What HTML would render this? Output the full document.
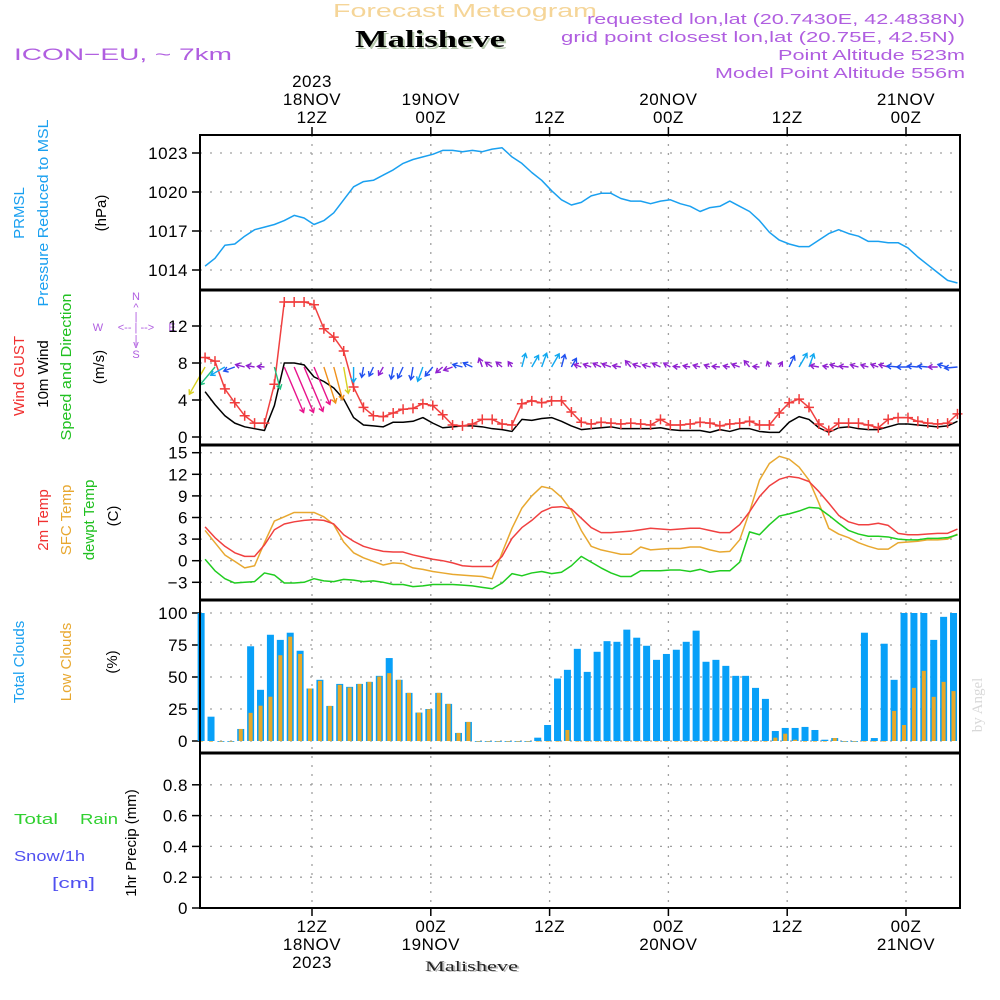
<!DOCTYPE html>
<html><head><meta charset="utf-8"><style>
html,body{margin:0;padding:0;background:#fff;}
svg{display:block;font-family:"Liberation Sans",sans-serif;}
</style></head><body>
<svg id="chart" width="1000" height="1000" viewBox="0 0 1000 1000" xmlns="http://www.w3.org/2000/svg">
<rect width="1000" height="1000" fill="#fff"/>
<g id="header">
<text x="333" y="17" font-size="18" fill="#f5d598" textLength="264" lengthAdjust="spacingAndGlyphs">Forecast Meteogram</text>
<text x="357" y="49" font-family="Liberation Serif,serif" font-weight="bold" font-size="24" fill="#b9cbb0" textLength="150" lengthAdjust="spacingAndGlyphs">Malisheve</text>
<text x="355" y="47" font-family="Liberation Serif,serif" font-weight="bold" font-size="24" fill="#000" textLength="150" lengthAdjust="spacingAndGlyphs">Malisheve</text>
<text x="14" y="60" font-size="17" fill="#b05ee0" textLength="218" lengthAdjust="spacingAndGlyphs">ICON−EU,  ~  7km</text>
<g font-size="15" fill="#b05ee0">
<text x="587" y="24" textLength="378" lengthAdjust="spacingAndGlyphs">requested lon,lat (20.7430E, 42.4838N)</text>
<text x="561" y="42" textLength="394" lengthAdjust="spacingAndGlyphs">grid point closest lon,lat (20.75E, 42.5N)</text>
<text x="778" y="60" textLength="187" lengthAdjust="spacingAndGlyphs">Point Altitude 523m</text>
<text x="715" y="78" textLength="250" lengthAdjust="spacingAndGlyphs">Model Point Altitude 556m</text>
</g>
</g>
<g id="labels" font-size="15">
<text transform="translate(24,213) rotate(-90)" text-anchor="middle" fill="#1aa0f0">PRMSL</text>
<text transform="translate(48,213) rotate(-90)" text-anchor="middle" fill="#1aa0f0" textLength="187" lengthAdjust="spacingAndGlyphs">Pressure Reduced to MSL</text>
<text transform="translate(106,213) rotate(-90)" text-anchor="middle" fill="#000">(hPa)</text>
<text transform="translate(24,376) rotate(-90)" text-anchor="middle" fill="#f03030">Wind GUST</text>
<text transform="translate(48,374) rotate(-90)" text-anchor="middle" fill="#000">10m Wind</text>
<text transform="translate(71,367) rotate(-90)" text-anchor="middle" fill="#20c020" textLength="147" lengthAdjust="spacingAndGlyphs">Speed and Direction</text>
<text transform="translate(104,367) rotate(-90)" text-anchor="middle" fill="#000">(m/s)</text>
<g fill="#b05ee0" font-size="11" text-anchor="middle">
<text x="136" y="300">N</text><text x="136" y="311">^</text><text x="136" y="320">|</text>
<text x="98" y="331">W</text><text x="136" y="331">&lt;-- | --&gt;</text><text x="172" y="331">E</text>
<text x="136" y="343">|</text><text x="136" y="348">v</text><text x="136" y="358">S</text>
</g>
<text transform="translate(48,520) rotate(-90)" text-anchor="middle" fill="#f03030">2m Temp</text>
<text transform="translate(71,520) rotate(-90)" text-anchor="middle" fill="#e8a830">SFC Temp</text>
<text transform="translate(94,520) rotate(-90)" text-anchor="middle" fill="#20c020">dewpt Temp</text>
<text transform="translate(118,516) rotate(-90)" text-anchor="middle" fill="#000">(C)</text>
<text transform="translate(24,662) rotate(-90)" text-anchor="middle" fill="#1aa0f0">Total Clouds</text>
<text transform="translate(71,662) rotate(-90)" text-anchor="middle" fill="#e8a830">Low Clouds</text>
<text transform="translate(117,662) rotate(-90)" text-anchor="middle" fill="#000">(%)</text>
<text transform="translate(136,843) rotate(-90)" text-anchor="middle" fill="#000">1hr Precip (mm)</text>
<text x="14" y="824" font-size="15" fill="#30d030" textLength="44" lengthAdjust="spacingAndGlyphs">Total</text>
<text x="80" y="824" font-size="15" fill="#30d030" textLength="38" lengthAdjust="spacingAndGlyphs">Rain</text>
<text x="14" y="861" font-size="15" fill="#5050f0" textLength="71" lengthAdjust="spacingAndGlyphs">Snow/1h</text>
<text x="52" y="888" font-size="15" fill="#5050f0" textLength="43" lengthAdjust="spacingAndGlyphs">[cm]</text>
<text transform="translate(982,705) rotate(-90)" text-anchor="middle" font-family="Liberation Serif,serif" font-size="15" fill="#d8d8d8">by Angel</text>
<text x="427" y="972" font-family="Liberation Serif,serif" font-size="15" fill="#bbb" textLength="93" lengthAdjust="spacingAndGlyphs">Malisheve</text>
<text x="425" y="971" font-family="Liberation Serif,serif" font-size="15" fill="#222" textLength="93" lengthAdjust="spacingAndGlyphs">Malisheve</text>
</g>
<g id="plot"></g>
</svg>
<script>
// ---- data (hourly, starting ~01Z 18NOV 2023) ----
const pressure = [1014.3,1014.9,1015.9,1016,1016.6,1017.1,1017.3,1017.5,1017.8,1018.2,1018,1017.5,1017.8,1018.4,1019.4,1020.4,1020.8,1020.9,1021.3,1021.7,1022.2,1022.5,1022.7,1022.9,1023.2,1023.2,1023.1,1023.2,1023.1,1023.3,1023.4,1022.7,1022.2,1021.5,1020.9,1020.1,1019.4,1019,1019.2,1019.7,1019.9,1019.9,1019.5,1019.3,1019.3,1019.1,1019.3,1019.4,1019.1,1018.9,1018.5,1018.8,1018.9,1019.3,1018.9,1018.5,1017.8,1016.9,1016.3,1016,1015.8,1015.8,1016.3,1016.8,1017.1,1016.8,1016.6,1016.2,1016.2,1016.1,1016.1,1015.7,1015,1014.4,1013.8,1013.2,1013.0];
const gust = [8.6,8.2,5.2,3.7,2.3,1.5,1.5,5.7,14.6,14.6,14.6,14.3,11.7,10.8,9.3,5.4,3.2,2.3,2.2,2.6,3.0,3.1,3.6,3.4,2.4,1.3,1.2,1.4,1.9,1.9,1.4,1.3,3.6,3.9,3.7,3.9,3.9,2.7,1.6,1.4,1.6,1.5,1.4,1.5,1.4,1.3,1.9,1.3,1.3,1.4,1.6,1.5,1.2,1.4,1.5,1.7,1.3,1.3,2.6,3.7,4.1,3.2,1.4,0.7,1.5,1.5,1.5,1.3,1.0,1.9,2.1,2.1,1.7,1.5,1.4,1.5,2.5];
const wind10m = [4.9,3.5,2.3,1.5,1.1,0.9,0.7,3.4,8.0,8.0,7.8,6.5,6.0,5.3,4.1,2.1,1.3,1.2,1.1,1.6,1.6,1.7,2.1,1.5,1.0,1.1,1.2,1.2,1.1,0.9,0.8,0.6,1.9,1.8,2.0,2.1,1.7,1.2,0.8,0.9,1.0,1.1,0.9,0.9,0.9,0.9,1.0,0.8,0.7,0.7,0.7,0.5,0.8,0.6,0.9,0.9,0.6,0.5,0.5,1.6,2.2,1.9,1.0,0.5,1.0,1.1,0.9,0.8,0.8,1.1,1.4,1.4,1.3,1.2,1.1,1.2,1.7];
// arrow pointing direction on screen (deg, 0=east/right, 90=down)
const windDir = [120,130,150,160,195,190,185,75,67,67,67,67,72,75,80,90,100,115,120,100,115,100,110,130,140,160,195,205,250,215,220,235,285,300,290,300,285,300,200,200,205,200,190,230,200,195,205,210,185,190,195,200,185,190,200,230,185,250,300,295,300,290,190,190,195,185,195,195,200,195,185,180,185,185,180,195,175];
const temp2m = [4.7,3.2,2.0,1.1,0.6,0.6,2.2,4.3,5.1,5.4,5.6,5.7,5.6,5.1,3.6,2.7,2.0,1.6,1.3,1.2,1.2,0.8,0.5,0.2,0,-0.3,-0.7,-0.8,-0.8,-0.8,0.6,3.1,4.6,5.6,6.8,7.4,7.5,7.2,5.9,4.6,3.9,3.9,4.0,4.1,4.3,4.5,4.4,4.3,4.4,4.5,4.5,4.2,3.9,3.9,5.0,6.8,8.9,10.4,11.3,11.7,11.5,11.0,9.6,8.0,6.3,5.4,5.0,5.0,5.2,4.9,3.8,3.6,3.6,3.7,3.8,3.8,4.4];
const sfcTemp = [4.2,2.5,0.8,-0.1,-1.0,-0.7,2.5,5.5,6.1,6.7,6.7,6.7,6.1,5.0,2.6,1.1,0.4,-0.1,-0.6,-0.3,-0.4,-1.0,-1.2,-1.5,-1.7,-1.9,-2.0,-2.1,-2.2,-2.5,1.1,4.5,7.3,9.0,10.3,10.0,8.8,7.0,4.2,2.0,1.5,1.2,0.9,0.9,1.9,1.5,1.6,1.7,1.7,1.9,1.9,1.5,1.2,1.3,2.9,6.8,11.2,13.5,14.5,14.1,13.0,11.2,8.0,4.5,3.7,3.2,2.5,2.0,1.6,1.6,2.5,2.6,2.7,2.9,2.9,3.0,3.7];
const dewpt = [0.2,-1.4,-2.5,-3.1,-3.0,-2.9,-1.7,-2.0,-3.1,-3.1,-3.0,-2.5,-2.8,-2.9,-2.6,-2.7,-2.9,-2.8,-3.0,-3.3,-3.3,-3.6,-3.5,-3.3,-3.3,-3.3,-3.4,-3.5,-3.7,-3.9,-3.1,-1.8,-2.1,-1.7,-1.5,-1.8,-1.6,-0.7,0.6,-0.2,-1.0,-1.7,-2.2,-2.2,-1.4,-1.4,-1.4,-1.3,-1.3,-1.5,-1.2,-1.6,-1.4,-1.4,-0.2,4.0,3.6,5.0,6.2,6.5,6.9,7.4,7.3,6.3,5.2,4.2,3.7,3.4,3.4,3.3,3.0,2.9,2.9,3.1,3.1,3.2,3.6];
const totalClouds = [100,19,0,0,9.4,74,40,83,79,84.6,70.5,41,47.8,27.4,44.6,42.3,44.6,46.2,50.9,64.8,47.8,37.6,22.2,25,37.6,29,6.3,14.9,0,0,0,0,0,0,2.6,12.5,48.8,55.6,72,54,69.7,78,77.5,87,80.7,74.4,63.4,68,71.3,77.5,86.2,61.9,63.4,58.7,50.9,50.9,41.5,32.9,7.8,10.2,10.2,11,8.6,1,2.3,0,0,84.6,2.3,76,47.8,100,100,100,79,97,100];
const lowClouds = [0,0,0,0,9.4,22,27.6,34.6,67,81.5,68,41,47,27.4,43.9,41.8,44.6,46.2,50.4,53,47.8,37.6,22.2,24.8,37.6,29,6.3,14.9,0,0,0,0,0,0,0,0,0,8.6,0,0,0,0,0,0,0,0,0,0,0,0,0,0,0,0,0,0,0,0,2.6,5.7,1,0,0,0,2.3,0,0,0,0,0,23.5,12.5,41.5,54.8,34.5,46.2,39];
const precip = new Array(77).fill(0);
const pressTicks = [1014,1017,1020,1023];
const windTicks = [0,4,8,12];
const tempTicks = [-3,0,3,6,9,12,15];
const cloudTicks = [0,25,50,75,100];
const precipTicks = [0,0.2,0.4,0.6,0.8];
const precipTickLabels = ["0","0.2","0.4","0.6","0.8"];
const timeTicks = [12,24,36,48,60,72];
const timeTop1 = ["2023","","","","",""];
const timeTop2 = ["18NOV","19NOV","","20NOV","","21NOV"];
const timeHr = ["12Z","00Z","12Z","00Z","12Z","00Z"];
const timeBot2 = ["18NOV","19NOV","","20NOV","","21NOV"];
const timeBot3 = ["2023","","","","",""];

// ---- axes ----
const X0=200, X1=960;
const xT = t => 312 + (t-12)*9.9;
const xLine = i => xT(1.2+i);
const xBar = i => xT(0.8+i);
const yP = v => 153 + (1023-v)*13;
const yW = v => 437 - v*9.25;
const yTmp = v => 560.7 - v*7.2;
const yC = v => 741 - v*1.28;
const yPr = v => 908 - v*154;
const panels = [[135,290],[290,445],[445,600],[600,753],[753,908]];

const NS="http://www.w3.org/2000/svg";
const plot=document.getElementById('plot');
function mk(tag, attrs, parent){const e=document.createElementNS(NS,tag);for(const k in attrs)e.setAttribute(k,attrs[k]);(parent||plot).appendChild(e);return e;}

// grids
const grid=mk('g',{});


function hgrid(vals, fy){vals.forEach(v=>{const l=mk('line',{x1:X0,x2:X1,y1:fy(v),y2:fy(v),stroke:'#a0a0a0','stroke-width':1.3,'stroke-dasharray':'2 8'},grid);

});}
hgrid(pressTicks,yP);hgrid(windTicks,yW);hgrid(tempTicks,yTmp);hgrid(cloudTicks,yC);hgrid(precipTicks.slice(1),yPr);
timeTicks.forEach(t=>{const l=mk('line',{x1:xT(t),x2:xT(t),y1:135,y2:908,stroke:'#a0a0a0','stroke-width':1.3,'stroke-dasharray':'2 7'},grid);

});

// y tick labels
function yticks(vals, fy, labels, name){vals.forEach((v,k)=>{
 const tk=mk('line',{x1:192,x2:200,y1:fy(v),y2:fy(v),stroke:'#000','stroke-width':1.5});
 
 
 const t=mk('text',{x:188,y:fy(v)+6,'text-anchor':'end','font-size':17,fill:'#000','letter-spacing':0.5});
 
 
 t.textContent=labels?labels[k]:String(v);});}
yticks(pressTicks,yP,null,'pressure');yticks(windTicks,yW,null,'wind');yticks(tempTicks,yTmp,tempTicks.map(v=>v<0?'−'+(-v):String(v)),'temp');yticks(cloudTicks,yC,null,'cloud');yticks(precipTicks,yPr,precipTickLabels,'precip');

// time ticks/labels
timeTicks.forEach((t,k)=>{
 const x=xT(t);
 mk('line',{x1:x,x2:x,y1:127,y2:135,stroke:'#000','stroke-width':1.5});
 mk('line',{x1:x,x2:x,y1:908,y2:916,stroke:'#000','stroke-width':1.5});
 [[timeTop1[k],87],[timeTop2[k],105],[timeHr[k],123],[timeHr[k],932],[timeBot2[k],950],[timeBot3[k],968]].forEach(([s,y])=>{
  if(!s)return;
  const e=mk('text',{x:x,y:y,'text-anchor':'middle','font-size':17,fill:'#000','letter-spacing':0.5});
  
  
  e.textContent=s;});
});

function line(data, fx, fy, color, name, w){
 const p=mk('polyline',{points:data.map((v,i)=>fx(i)+','+fy(v)).join(' '),fill:'none',stroke:color,'stroke-width':w||1.5,'stroke-linejoin':'round'});
 
 
 return p;}
line(pressure,xLine,yP,'#1aa0f0','pressure-line');

// wind
line(wind10m,xLine,yW,'#000','wind-10m-line');
line(gust,xLine,yW,'#f04040','gust-line');
gust.forEach((v,i)=>{const x=xLine(i),y=yW(v);
 const g=mk('path',{d:`M${x-5},${y}H${x+5}M${x},${y-5}V${y+5}`,stroke:'#f03c3c','stroke-width':1.5});
 
 });
function arrowColor(s){return s>=6.3?'#e8148c':s>=5.1?'#f0901a':s>=4.0?'#d8d020':s>=2.6?'#20c080':s>=1.8?'#10a8f0':s>=1.2?'#2050f0':'#9020d0';}
wind10m.forEach((s,i)=>{
 const x=xLine(i),y=367,len=3+5.8*s,a=windDir[i]*Math.PI/180;
 const x2=x+len*Math.cos(a),y2=y+len*Math.sin(a);
 const h=5,b1=a+Math.PI*0.82,b2=a-Math.PI*0.82;
 const c=arrowColor(s);
 const ar=mk('path',{d:`M${x},${y}L${x2},${y2}M${x2+h*Math.cos(b1)},${y2+h*Math.sin(b1)}L${x2},${y2}L${x2+h*Math.cos(b2)},${y2+h*Math.sin(b2)}`,stroke:c,'stroke-width':1.4,fill:'none'});
 
 
});

// temperatures
line(sfcTemp,xLine,yTmp,'#e8a830','sfc-temp-line');
line(temp2m,xLine,yTmp,'#f04040','temp-2m-line');
line(dewpt,xLine,yTmp,'#20cc20','dewpoint-line');

// clouds
totalClouds.forEach((v,i)=>{
 const b=mk('rect',{x:xBar(i)-3.5,y:yC(v),width:7,height:Math.max(741-yC(v),0.8),fill:'#08a0f8'});
 
 });
lowClouds.forEach((v,i)=>{
 const b=mk('rect',{x:xBar(i)-2,y:yC(v),width:4,height:Math.max(741-yC(v),0.6),fill:'#e8a828'});
 
 });

// precip
line(precip,xLine,yPr,'#404040','precip-line',1.5).setAttribute('stroke-dasharray','5 3');

// frames
panels.forEach(([a,b])=>{const r=mk('rect',{x:X0,y:a,width:X1-X0,height:b-a,fill:'none',stroke:'#000','stroke-width':2});
 
 });
[290,445,600,753].forEach(y=>mk('line',{x1:X0,x2:X1,y1:y,y2:y,stroke:'#000','stroke-width':3}));
</script>
</body></html>
